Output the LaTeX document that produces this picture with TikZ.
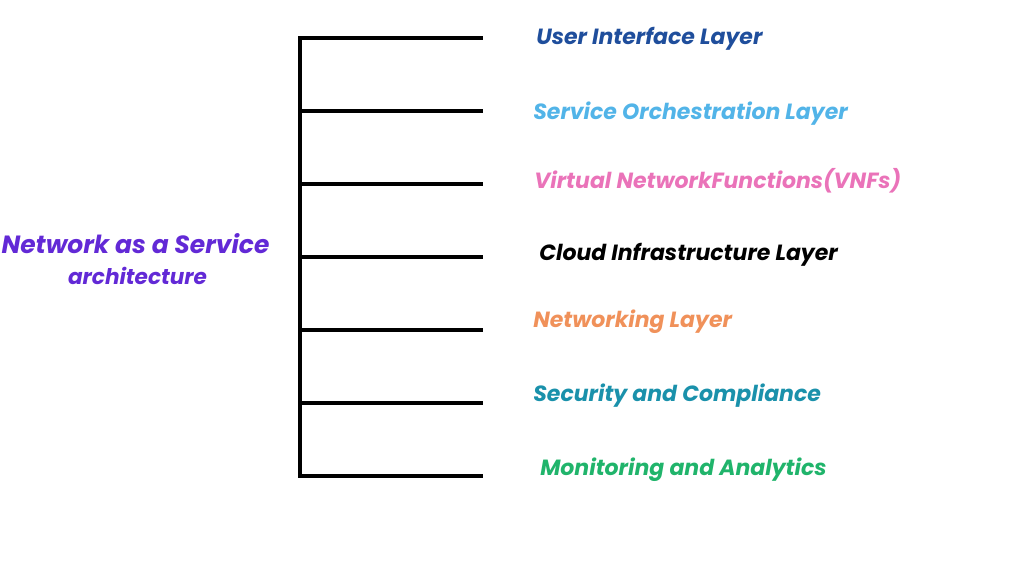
\documentclass[tikz,border=0pt]{standalone}
\usepackage{fontspec}
\setmainfont{Poppins}
\definecolor{cUI}{HTML}{1F4E9C}
\definecolor{cSO}{HTML}{52B4E8}
\definecolor{cVN}{HTML}{EA73B9}
\definecolor{cCL}{HTML}{000000}
\definecolor{cNW}{HTML}{F0915A}
\definecolor{cSC}{HTML}{1A91AB}
\definecolor{cMA}{HTML}{20B46B}
\definecolor{cTI}{HTML}{6229D6}
\begin{document}
\begin{tikzpicture}[x=0.75pt,y=-0.75pt,
  lbl/.style={anchor=west,inner sep=0pt,font=\fontsize{16.5}{20}\selectfont\bfseries\itshape},
  tree/.style={line width=2.6pt,black,line cap=rect}]
\useasboundingbox (0,0) rectangle (1024,575);
\foreach \n/\y in {1/38,2/111,3/184,4/257,5/330,6/403,7/476}{
  \coordinate (j\n) at (300,\y);
  \coordinate (e\n) at (481,\y);
}
\draw[tree] (e1) -- (j1) -- (j7) -- (e7);
\foreach \n in {2,...,6}{ \draw[tree] (j\n) -- (e\n); }
\node[lbl,text=cUI] (l1) at (536,39) {User Interface Layer};
\node[lbl,text=cSO] (l2) at (533,114) {Service Orchestration Layer};
\node[lbl,text=cVN] (l3) at (534,181) {Virtual NetworkFunctions(VNFs)};
\node[lbl,text=cCL] (l4) at (539,255) {Cloud Infrastructure Layer};
\node[lbl,text=cNW] (l5) at (533,322) {Networking Layer};
\node[lbl,text=cSC] (l6) at (533,396) {Security and Compliance};
\node[lbl,text=cMA] (l7) at (540,470) {Monitoring and Analytics};
\node[inner sep=0pt,text=cTI,font=\fontsize{18.7}{22}\selectfont\bfseries\itshape] (t1) at (135.5,244) {Network as a Service};
\node[inner sep=0pt,text=cTI,font=\fontsize{16.2}{19}\selectfont\bfseries\itshape] (t2) at (137.5,276) {architecture};
\end{tikzpicture}
\end{document}
